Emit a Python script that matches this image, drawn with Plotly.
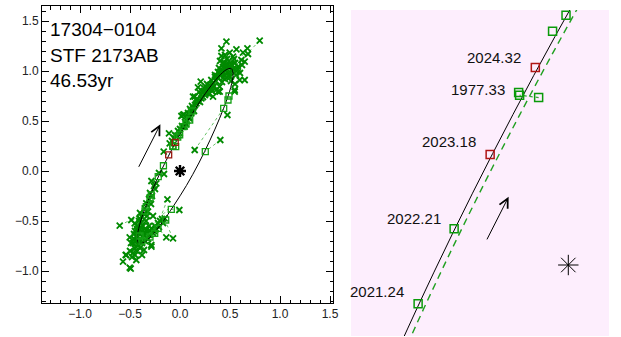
import plotly.graph_objects as go

# ---------------- data ----------------
title_lines = ["17304\u22120104", "STF 2173AB", "46.53yr"]

orbit_x = [0.5119, 0.4621, 0.3843, 0.2838, 0.1677, 0.0435, -0.0801, -0.1947, -0.2925, -0.3668,
           -0.4127, -0.4267, -0.4083, -0.3585, -0.2807, -0.1802, -0.0641, 0.0651, 0.1887, 0.3003,
           0.3961, 0.4704, 0.5163, 0.5303, 0.5119]
orbit_y = [1.0244, 1.0125, 0.9419, 0.8171, 0.6469, 0.4427, 0.2186, -0.0103, -0.2283, -0.4205,
           -0.5739, -0.6781, -0.7258, -0.7139, -0.6433, -0.5185, -0.3483, -0.1441, 0.0800, 0.3089,
           0.5269, 0.7191, 0.8725, 0.9767, 1.0244]

orbit2_x = [0.2938, 0.1777, 0.0535, -0.0701, -0.1847, -0.2825, -0.3568]
orbit2_y = [0.8171, 0.6469, 0.4427, 0.2186, -0.0103, -0.2283, -0.4205]

meas_x = [0.797, 0.464, 0.414, 0.564, 0.674, 0.63, 0.68, 0.497, 0.53, 0.414, 0.40, 0.614, 0.647, 0.58,
          0.62, 0.55, 0.47, 0.44, 0.50, 0.46, 0.42, 0.52, 0.48, 0.44, 0.40, 0.50, 0.56, 0.45, 0.38,
          0.36, 0.42, 0.47, 0.53, 0.49, 0.43, 0.39, 0.56, 0.60, 0.54, 0.45, 0.51, 0.597, 0.547, 0.647,
          0.55, 0.474, 0.207, 0.18, 0.147, 0.313, 0.38, 0.33, 0.263, 0.28, 0.30, 0.34, 0.397, 0.32,
          0.25, 0.22, 0.29, 0.36, 0.26, 0.13, 0.214, 0.164, 0.264, 0.397, 0.547, 0.03, 0.113, 0.13,
          0.09, 0.047, 0.014, 0.04, 0.18, 0.20, 0.15, 0.10, 0.08, 0.07, 0.12, 0.17, 0.23, 0.06, 0.02,
          0.00, -0.003, -0.11, -0.103, -0.163, -0.06, -0.08, -0.03, 0.147, 0.403, -0.286, -0.237,
          -0.25, -0.30, -0.337, -0.353, -0.32, -0.31, -0.28, -0.126, -0.0067, -0.603, -0.403, -0.38,
          -0.453, -0.43, -0.40, -0.45, -0.42, -0.38, -0.36, -0.503, -0.42, -0.40, -0.44, -0.46, -0.38,
          -0.42, -0.453, -0.40, -0.537, -0.57, -0.503, -0.493, -0.437, -0.47, -0.50, -0.48, -0.287,
          -0.36, -0.337, -0.303, -0.137, -0.07, -0.153, -0.487, -0.286, -0.30, -0.25, -0.22, -0.27,
          -0.24, -0.20, -0.18, -0.32, -0.35, -0.39, -0.41, -0.37, -0.34, -0.33, -0.36, -0.40, -0.44,
          -0.47, -0.43, -0.38, -0.45, -0.40, -0.35, -0.286, -0.543, 0.33, 0.37, 0.43, 0.51, 0.35,
          0.31, 0.24, 0.11, -0.16, -0.27,
          0.41, 0.46, 0.52, 0.58, 0.44, 0.49, 0.38, 0.43, 0.35, 0.27, 0.24, 0.19, 0.16, 0.21, 0.32,
          0.05, 0.09, 0.14, -0.02, -0.05, -0.21, -0.26, -0.29, -0.33, -0.39, -0.43, -0.46, -0.41,
          -0.37, -0.44, -0.49, -0.35, -0.31, -0.26, -0.21, -0.17]
meas_y = [1.303, 1.293, 1.227, 1.217, 1.227, 1.183, 1.17, 1.183, 1.143, 1.15, 1.10, 1.11, 1.093, 1.043,
          1.06, 1.08, 1.12, 1.07, 1.05, 1.03, 1.01, 1.00, 0.98, 0.96, 0.97, 0.94, 0.96, 0.92, 0.93,
          0.90, 0.89, 1.06, 1.02, 1.10, 1.04, 1.03, 1.00, 0.98, 1.12, 1.16, 0.90, 0.91, 0.81, 0.91,
          0.87, 0.56, 0.893, 0.837, 0.743, 0.91, 0.793, 0.743, 0.793, 0.82, 0.86, 0.85, 0.843, 0.80,
          0.76, 0.80, 0.77, 0.81, 0.84, 0.743, 0.727, 0.677, 0.777, 0.793, 0.793, 0.56, 0.577, 0.627,
          0.527, 0.443, 0.55, 0.567, 0.70, 0.69, 0.66, 0.62, 0.58, 0.50, 0.65, 0.72, 0.74, 0.47, 0.45,
          0.42, 0.377, 0.377, 0.277, 0.193, 0.33, 0.30, 0.35, 0.21, 0.31, -0.10, -0.123,
          -0.18, -0.22, -0.323, -0.373, -0.407, -0.28, -0.25, -0.283, -0.39, -0.547, -0.473, -0.46,
          -0.523, -0.55, -0.58, -0.60, -0.62, -0.60, -0.64, -0.663, -0.657, -0.68, -0.70, -0.68, -0.72,
          -0.74, -0.773, -0.77, -0.84, -0.907, -0.967, -0.977, -0.89, -0.82, -0.80, -0.86, -0.74,
          -0.79, -0.59, -0.64, -0.663, -0.673, -0.473, -0.49, -0.573, -0.60, -0.55, -0.52, -0.62,
          -0.58, -0.50, -0.48, -0.68, -0.70, -0.52, -0.50, -0.55, -0.50, -0.45, -0.43, -0.42, -0.65,
          -0.72, -0.80, -0.84, -0.84, -0.48, -0.62, -0.757, -0.84, 0.88, 0.95, 0.99, 1.07, 0.96,
          0.83, 0.80, 0.60, -0.03, -0.45,
          0.99, 1.01, 1.06, 1.02, 1.09, 0.95, 0.99, 0.93, 0.94, 0.87, 0.83, 0.79, 0.71, 0.76, 0.87,
          0.49, 0.54, 0.60, 0.40, 0.36, -0.02, -0.15, -0.33, -0.40, -0.56, -0.58, -0.63, -0.70,
          -0.66, -0.76, -0.72, -0.58, -0.55, -0.60, -0.56, -0.52]

res_x0 = [0.797, 0.147, 0.403, -0.603, -0.126, -0.0067, -0.07, -0.137, -0.043, -0.487, 0.35, 0.62,
          0.674, 0.414, -0.57, -0.453, -0.36, 0.0, 0.20, -0.11]
res_y0 = [1.303, 0.21, 0.31, -0.547, -0.283, -0.39, -0.673, -0.663, 0.243, -0.49, 0.90, 1.06,
          1.227, 1.227, -0.907, -0.757, -0.79, 0.42, 0.70, -0.37]
res_x1 = [0.52, 0.437, 0.253, -0.37, -0.203, -0.087, -0.153, -0.22, -0.0706, -0.40, 0.50, 0.50,
          0.52, 0.48, -0.42, -0.40, -0.38, 0.10, 0.35, -0.28]
res_y1 = [1.02, 0.627, 0.193, -0.42, -0.49, -0.383, -0.49, -0.573, 0.2464, -0.47, 1.05, 0.98,
          1.00, 1.00, -0.70, -0.60, -0.65, 0.55, 0.85, -0.55]

sq_x = [-0.0033, -0.0228, -0.0720, -0.0706, -0.0430, -0.1655, -0.2177, 0.03, 0.097, 0.06, 0.12,
        0.437, 0.48, 0.49, 0.253, -0.287, -0.30, -0.337, -0.35, -0.087, -0.143, -0.22, -0.253,
        -0.30, -0.40, -0.38]
sq_y = [0.3623, 0.3391, 0.2503, 0.2464, 0.2430, 0.0526, -0.0561, 0.443, 0.51, 0.47, 0.60,
        0.627, 0.71, 0.75, 0.193, -0.24, -0.27, -0.357, -0.40, -0.383, -0.49, -0.573, -0.623,
        -0.66, -0.65, -0.70]

red_x = [-0.0478, -0.1133]
red_y = [0.2865, 0.1604]

lab_text = ["2024.32", "1977.33", "2023.18", "2022.21", "2021.24"]
lab_x = [-0.0478, -0.0720, -0.1133, -0.1655, -0.2177]
lab_y = [0.2865, 0.2503, 0.1604, 0.0526, -0.0561]

xtick_vals = [-1.0, -0.5, 0.0, 0.5, 1.0, 1.5]
ytick_vals = [-1.0, -0.5, 0.0, 0.5, 1.0, 1.5]

# ---------------- styling ----------------
W, H = 621, 337
FONT = "Liberation Sans, Arial, Helvetica, sans-serif"
GREEN = "#008a00"
SQGREEN = "#14a014"
RED = "#b01515"

def seg(a0, b0, a1, b1):
    xs, ys = [], []
    for p, q, r, s in zip(a0, b0, a1, b1):
        xs += [p, r, None]
        ys += [q, s, None]
    return xs, ys

rx, ry = seg(res_x0, res_y0, res_x1, res_y1)

def open_marker(symbol, size, color, width):
    return dict(symbol=symbol, size=size, color=color, line=dict(color=color, width=width))

fig = go.Figure()

# ---- left panel ----
fig.add_trace(go.Scatter(x=rx, y=ry, mode="lines", xaxis="x", yaxis="y",
                         line=dict(color="rgba(40,170,40,0.7)", width=1, dash="dot"),
                         hoverinfo="skip"))
fig.add_trace(go.Scatter(x=meas_x, y=meas_y, mode="markers", xaxis="x", yaxis="y",
                         marker=open_marker("x-thin-open", 6, GREEN, 1.8)))
fig.add_trace(go.Scatter(x=orbit_x, y=orbit_y, mode="lines", xaxis="x", yaxis="y",
                         line=dict(color="black", width=1, shape="spline")))
fig.add_trace(go.Scatter(x=sq_x, y=sq_y, mode="markers", xaxis="x", yaxis="y",
                         marker=open_marker("square-open", 6, SQGREEN, 1.3)))
fig.add_trace(go.Scatter(x=red_x, y=red_y, mode="markers", xaxis="x", yaxis="y",
                         marker=open_marker("square-open", 6, "#9a1a10", 1.3)))
fig.add_trace(go.Scatter(x=[0], y=[0], mode="markers", xaxis="x", yaxis="y",
                         marker=open_marker("asterisk-open", 10, "black", 2.4)))

# ---- right (zoomed) panel ----
fig.add_trace(go.Scatter(x=orbit_x, y=orbit_y, mode="lines", xaxis="x2", yaxis="y2",
                         line=dict(color="black", width=1, shape="spline")))
fig.add_trace(go.Scatter(x=orbit2_x, y=orbit2_y, mode="lines", xaxis="x2", yaxis="y2",
                         line=dict(color="#20a020", width=1.4, dash="7px,5px", shape="spline")))
fig.add_trace(go.Scatter(x=rx, y=ry, mode="lines", xaxis="x2", yaxis="y2",
                         line=dict(color="rgba(30,160,30,0.9)", width=1.2, dash="dot"),
                         hoverinfo="skip"))
fig.add_trace(go.Scatter(x=sq_x, y=sq_y, mode="markers", xaxis="x2", yaxis="y2",
                         marker=open_marker("square-open", 8, "#0a9a0a", 1.5)))
fig.add_trace(go.Scatter(x=red_x, y=red_y, mode="markers", xaxis="x2", yaxis="y2",
                         marker=open_marker("square-open", 8, RED, 1.5)))
fig.add_trace(go.Scatter(x=[0], y=[0], mode="markers", xaxis="x2", yaxis="y2",
                         marker=open_marker("asterisk-open", 17, "black", 1)))

def px_x(p):
    return p / W

def px_y(p):
    return 1 - p / H

annotations = []
title_py = [30, 55.5, 80]
for t, py in zip(title_lines, title_py):
    annotations.append(dict(text=t, xref="paper", yref="paper", x=px_x(48), y=px_y(py),
                            xanchor="left", yanchor="middle", showarrow=False,
                            font=dict(family=FONT, size=19, color="black")))

lab_dx = [-12, -12, -12, -11, -12]
lab_dy = [10, 3, 13, 10, 12]
for t, x, y, dx, dy in zip(lab_text, lab_x, lab_y, lab_dx, lab_dy):
    annotations.append(dict(text=t, xref="x2", yref="y2", x=x, y=y, xshift=dx, yshift=dy,
                            xanchor="right", yanchor="middle", showarrow=False,
                            font=dict(family=FONT, size=15, color="#111")))

# direction-of-motion arrows
annotations.append(dict(x=-0.196, y=0.467, ax=-0.42, ay=0.027, xref="x", yref="y",
                        axref="x", ayref="y", showarrow=True, arrowhead=5, arrowsize=1.8,
                        arrowwidth=1, arrowcolor="black", text=""))
annotations.append(dict(x=-0.0865, y=0.099, ax=-0.119, ay=0.035, xref="x2", yref="y2",
                        axref="x2", ayref="y2", showarrow=True, arrowhead=5, arrowsize=1.8,
                        arrowwidth=1, arrowcolor="black", text=""))

axis_common = dict(showgrid=False, zeroline=False, showline=True, linecolor="black", linewidth=1,
                   mirror="allticks", ticks="inside", ticklen=7, tickwidth=1, tickcolor="black",
                   tickformat=".1f", tickfont=dict(family=FONT, size=12, color="#222"),
                   minor=dict(ticks="inside", ticklen=3.5, dtick=0.1, tickcolor="black", tickwidth=1))

fig.update_layout(
    width=W, height=H, margin=dict(l=0, r=0, t=0, b=0, autoexpand=False),
    paper_bgcolor="white", plot_bgcolor="white", showlegend=False,
    xaxis=dict(domain=[42 / W, 333 / W], range=[-1.38, 1.53], tickvals=xtick_vals, **axis_common),
    yaxis=dict(domain=[1 - 303 / H, 1 - 6 / H], range=[-1.32, 1.65], tickvals=ytick_vals, **axis_common),
    xaxis2=dict(domain=[351 / W, 609 / W], range=[-0.315, 0.059], visible=False),
    yaxis2=dict(domain=[1 - 336 / H, 1 - 10 / H], range=[-0.103, 0.370], visible=False),
    shapes=[dict(type="rect", xref="x2 domain", yref="y2 domain", x0=0, x1=1, y0=0, y1=1,
                 fillcolor="#fdeefd", line=dict(width=0), layer="below")],
    annotations=annotations,
)

fig.write_html("out.html", config={"displayModeBar": False},
               post_script="document.body.style.margin='0';document.body.style.overflow='hidden';")
